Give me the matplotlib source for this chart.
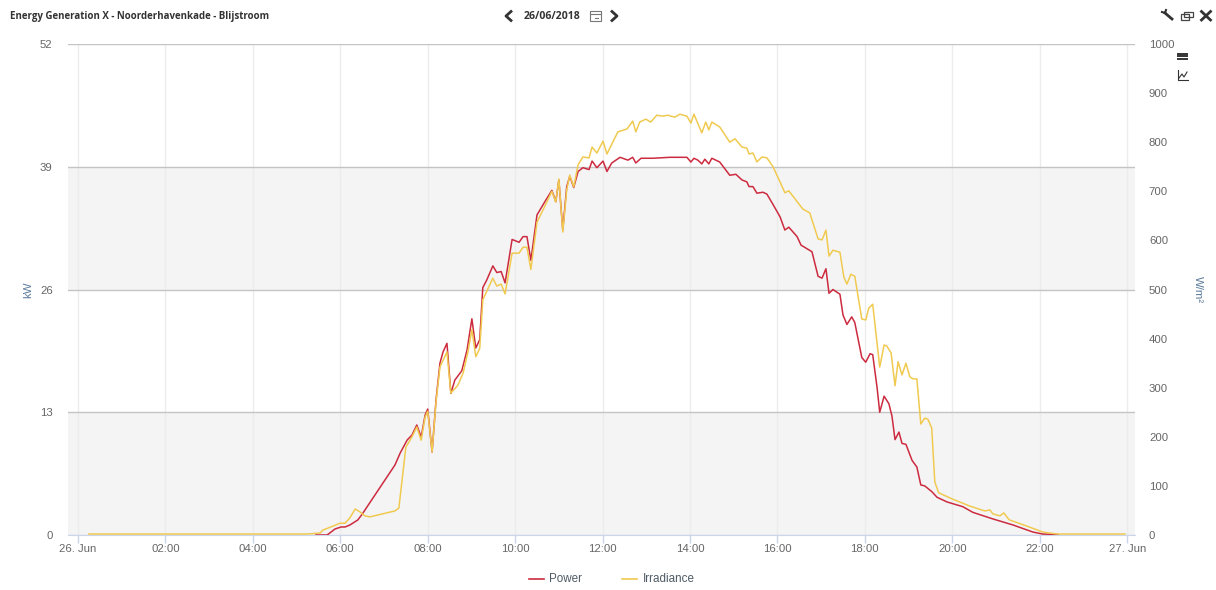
import matplotlib
matplotlib.use("Agg")
import matplotlib.pyplot as plt
from matplotlib.lines import Line2D
from matplotlib.patches import Rectangle

power_hours = [5.44,5.70,5.88,6.02,6.11,6.22,6.40,6.50,7.25,7.37,7.53,7.64,7.75,7.85,7.94,8.00,8.10,8.19,8.28,8.35,8.44,8.53,8.62,8.78,8.90,9.01,9.10,9.19,9.26,9.35,9.49,9.58,9.68,9.77,9.93,10.09,10.18,10.27,10.36,10.50,10.68,10.84,10.93,11.00,11.09,11.18,11.25,11.34,11.44,11.55,11.69,11.76,11.87,12.01,12.10,12.21,12.40,12.58,12.69,12.76,12.88,13.15,13.54,13.93,14.02,14.09,14.18,14.27,14.34,14.43,14.50,14.68,14.91,15.05,15.19,15.30,15.35,15.44,15.53,15.67,15.76,15.90,16.06,16.17,16.26,16.45,16.54,16.79,16.93,17.02,17.11,17.18,17.27,17.43,17.50,17.59,17.70,17.77,17.93,18.02,18.12,18.18,18.28,18.34,18.44,18.55,18.62,18.69,18.78,18.85,18.94,19.08,19.19,19.28,19.37,19.53,19.65,19.88,20.24,20.47,20.93,21.39,21.84,22.07,22.42]
power_kw = [0,0,0.64,0.85,0.85,1.06,1.59,2.2,7.41,8.68,10.06,10.59,11.65,10.38,12.7,13.34,8.79,14.3,18.2,19.38,20.3,15.0,16.4,17.4,19.6,22.9,19.8,20.7,26.2,27.0,28.5,27.8,27.9,26.7,31.3,31.0,31.6,31.6,29.1,33.9,35.3,36.5,35.3,37.6,32.3,36.9,38.0,36.8,38.5,38.9,38.7,39.6,38.9,39.6,38.5,39.4,40.0,39.7,40.0,39.4,39.9,39.9,40.0,40.0,39.5,39.9,39.7,39.3,39.8,39.3,39.9,39.5,38.1,38.2,37.6,37.4,36.9,36.9,36.2,36.3,36.1,35.0,33.7,32.3,32.6,31.6,30.7,30.0,27.4,27.2,28.2,25.6,26.0,25.5,23.3,22.3,23.1,22.5,18.8,18.3,19.2,19.1,15.6,13.0,14.7,13.9,12.6,10.1,10.9,9.7,9.6,7.9,7.2,5.3,5.2,4.6,4.0,3.5,3.0,2.4,1.7,1.06,0.32,0.1,0.05]

irr_hours = [0.25,5.24,5.54,5.60,5.83,5.99,6.11,6.22,6.34,6.45,6.56,6.68,7.25,7.34,7.50,7.64,7.75,7.85,7.94,8.00,8.10,8.19,8.28,8.44,8.53,8.69,8.81,8.92,9.01,9.10,9.19,9.26,9.49,9.58,9.68,9.77,9.93,10.09,10.18,10.27,10.36,10.50,10.68,10.84,10.93,11.00,11.09,11.18,11.25,11.34,11.44,11.55,11.69,11.76,11.87,12.01,12.10,12.35,12.56,12.69,12.76,12.85,12.99,13.10,13.24,13.38,13.49,13.65,13.77,13.93,14.02,14.09,14.27,14.36,14.43,14.50,14.68,14.91,15.03,15.19,15.30,15.35,15.44,15.53,15.65,15.76,15.90,16.06,16.17,16.26,16.58,16.74,16.93,17.02,17.11,17.18,17.27,17.43,17.52,17.59,17.68,17.77,17.93,18.02,18.09,18.18,18.34,18.44,18.50,18.60,18.69,18.76,18.85,18.94,19.03,19.10,19.19,19.28,19.37,19.44,19.53,19.60,19.69,20.01,20.40,20.74,20.86,20.93,21.09,21.18,21.30,21.71,22.07,22.39,23.95]
irr_wm2 = [2,2,4,10,18,24,24,35,53,47,39,37,49,55,179,200,220,193,240,252,169,271,342,373,289,305,330,373,418,363,380,479,523,507,511,491,574,574,586,586,541,637,670,700,678,725,617,703,733,709,754,770,768,790,778,802,776,821,827,843,821,841,847,841,855,853,855,851,857,853,839,857,819,841,825,841,831,800,807,790,788,776,778,760,770,768,750,719,697,701,664,656,603,601,621,568,580,576,525,511,531,527,440,438,462,470,342,387,385,371,304,353,326,350,322,318,318,226,238,236,218,108,86,73,59,49,51,43,39,45,31,18,6,2,2]

x_ticks = [0,2,4,6,8,10,12,14,16,18,20,22,24]
x_labels = ["26. Jun","02:00","04:00","06:00","08:00","10:00","12:00","14:00","16:00","18:00","20:00","22:00","27. Jun"]
kw_ticks = [0,13,26,39,52]
wm2_ticks = [0,100,200,300,400,500,600,700,800,900,1000]

W, H = 1216, 590
RED, YEL = "#cc2b3f", "#f0ca50"
TICK, AXT = "#666666", "#5a7a9c"
plt.rcParams["font.family"] = ["Liberation Sans", "DejaVu Sans"]
fig = plt.figure(figsize=(W/100, H/100), dpi=100, facecolor="white")
ax = fig.add_axes([68/W, 1-535/H, (1135-68)/W, (535-44)/H])
ax.set_xlim(-0.229, 24.18)
ax.set_ylim(0, 52)
ax.axhspan(0, 13, color="#f5f4f5", lw=0, zorder=0)
ax.axhspan(26, 39, color="#f5f4f5", lw=0, zorder=0)
for s in ax.spines.values():
    s.set_visible(False)
ax.spines["bottom"].set_visible(True)
ax.spines["bottom"].set_color("#ccd6eb")
for h in x_ticks:
    ax.axvline(h, color="#ececec", lw=1, zorder=1)
for v in kw_ticks:
    ax.axhline(v, color="#c4c4c4" if v else "#ccd6eb", lw=1, zorder=1.5)
ax.set_xticks(x_ticks, x_labels, color=TICK, fontsize=8.2)
ax.set_yticks(kw_ticks, [str(v) for v in kw_ticks], color=TICK, fontsize=8.2)
ax.tick_params(axis="x", length=6, width=1, color="#ccd6eb", pad=0.5)
ax.tick_params(axis="y", length=0, pad=11)
ax.set_ylabel("kW", color=AXT, fontsize=8.2)
ax.yaxis.set_label_coords((33-68)/(1135-68), 0.5)

ax2 = ax.twinx()
ax2.set_ylim(0, 1000)
for s in ax2.spines.values():
    s.set_visible(False)
ax2.set_yticks(wm2_ticks, [str(v) for v in wm2_ticks], color=TICK, fontsize=8.2)
ax2.tick_params(axis="y", length=0, pad=10)
ax2.set_ylabel("W/m²", color=AXT, fontsize=8.2, rotation=270, va="center")
ax2.yaxis.set_label_coords((1198-68)/(1135-68), 0.5)

ax.plot(power_hours, power_kw, color=RED, lw=1.1, zorder=3, solid_joinstyle="round")
ax2.plot(irr_hours, irr_wm2, color=YEL, lw=1.1, zorder=4, solid_joinstyle="round")

def fx(px): return px/W
def fy(py): return 1-py/H
def ln(xs, ys, c="#333333", lw=1.0):
    fig.add_artist(Line2D([fx(x) for x in xs], [fy(y) for y in ys], color=c, lw=lw))

fig.text(fx(10), fy(17), "Energy Generation X - Noorderhavenkade - Blijstroom", family="Open Sans",
         fontweight="bold", fontsize=7.05, color="#333333", va="center")
fig.text(fx(524), fy(16.5), "26/06/2018", family="Open Sans", fontweight="bold", fontsize=7.6, color="#333333", va="center")
# header icons
ln([511,506,511],[11.5,16,20.5], lw=2.0)
ln([612,617,612],[11.5,16,20.5], lw=2.0)
fig.add_artist(Rectangle((fx(590), fy(21)), 11/W, 10/H, fill=False, ec="#777777", lw=0.8))
ln([590,601],[14,14], c="#777777", lw=0.8)
ln([594.5,598],[18,18], c="#777777", lw=0.8)
ln([1165,1172],[13,19], lw=2)
ln([1165,1162],[13,12], lw=1.5)
ln([1165,1166],[13,10], lw=1.5)
fig.add_artist(Rectangle((fx(1181), fy(20)), 8/W, 6/H, fill=False, ec="#444444", lw=0.9))
fig.add_artist(Rectangle((fx(1184), fy(17)), 9/W, 5/H, fill=False, ec="#444444", lw=0.9))
ln([1201.5,1210.5],[11.5,20], lw=2.0)
ln([1210.5,1201.5],[11.5,20], lw=2.0)
for y in (53.5, 56, 58.5):
    ln([1178,1187],[y,y], lw=1.4)
ln([1177.5,1177.5,1188],[70,80,80], lw=0.8)
ln([1179,1182,1184,1187],[78,74,77,72], lw=0.8)

# legend drawn from the two series' names at their reference positions
LEG = "#4f5b66"
for name, color, x0, x1, xt in (("Power", RED, 529, 544, 549), ("Irradiance", YEL, 622, 637, 643)):
    ln([x0, x1], [579, 579], c=color, lw=1.2)
    fig.text(fx(xt), fy(579), name, color=LEG, fontsize=8.4, va="center")
fig.savefig("out.png", dpi=100)
